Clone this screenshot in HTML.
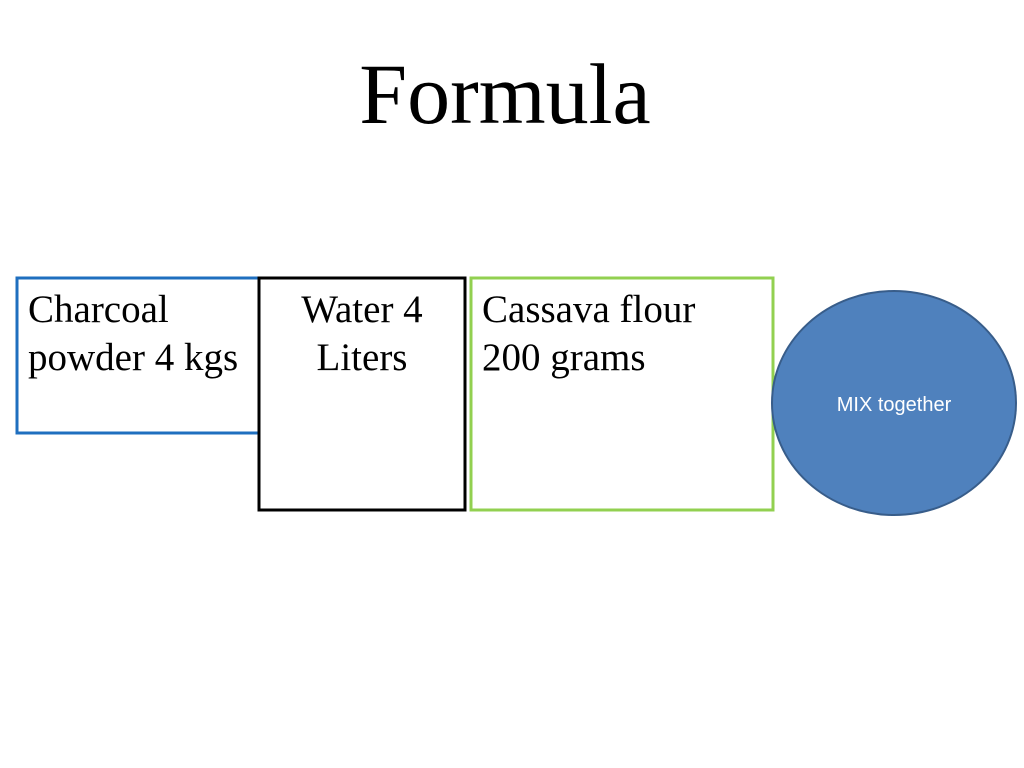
<!DOCTYPE html>
<html><head><style>
body{margin:0;width:1024px;height:768px;background:#fff;position:relative;overflow:hidden;font-family:"Liberation Serif",serif}
.t{position:absolute;white-space:nowrap;color:#000}
</style></head><body>
<div class="t" style="left:0;width:1010px;text-align:center;top:44px;font-size:86px;line-height:100px">Formula</div>
<svg width="1024" height="768" style="position:absolute;left:0;top:0">
<rect x="17" y="278" width="250" height="155" fill="none" stroke="#1f6fbf" stroke-width="3"/>
<rect x="259" y="278" width="206" height="232" fill="#fff" stroke="#000" stroke-width="3"/>
<rect x="471" y="278" width="302" height="232" fill="none" stroke="#92d050" stroke-width="3"/>
<ellipse cx="894" cy="403" rx="122" ry="112" fill="#4f81bd" stroke="#385d8a" stroke-width="2"/>
<text x="894" y="411" text-anchor="middle" fill="#fff" font-family="Liberation Sans, sans-serif" font-size="20">MIX together</text>
</svg>
<div class="t" style="left:28px;top:286px;font-size:39px;line-height:48px">Charcoal<br>powder 4 kgs</div>
<div class="t" style="left:259px;width:206px;text-align:center;top:286px;font-size:39px;line-height:48px">Water 4<br>Liters</div>
<div class="t" style="left:482px;top:286px;font-size:39px;line-height:48px">Cassava flour<br>200 grams</div>
</body></html>
